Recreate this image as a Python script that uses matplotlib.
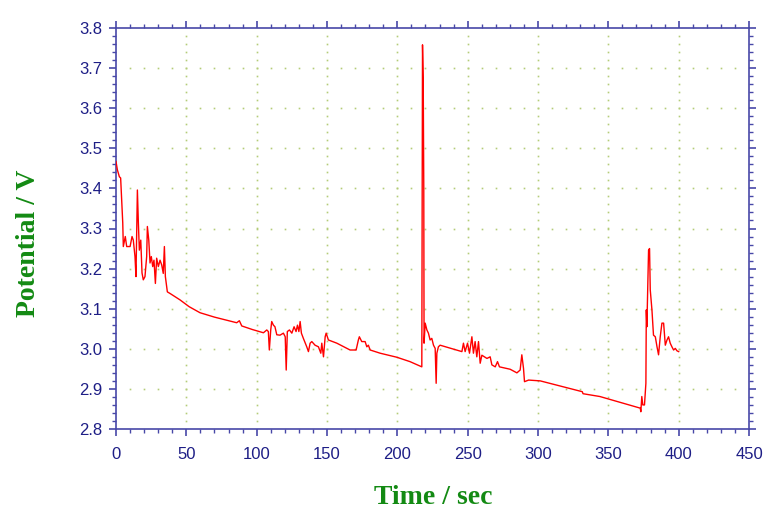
import numpy as np
import matplotlib
matplotlib.use("Agg")
import matplotlib.pyplot as plt
from matplotlib.ticker import MultipleLocator

# ---- data ----
time_s = [0, 1.0, 2.4, 3.3, 4.0, 4.8, 5.2, 6.6, 7.6, 10.0, 11.4, 12.3, 13.5, 14.2,
          15.2, 15.9, 16.6, 17.6, 18.5, 19.4, 20.6, 21.8, 22.3, 23.3, 24.2, 25.1,
          26.1, 27.0, 28.0, 28.9, 30.1, 31.3, 32.5, 33.6, 34.4, 35.1, 36.5, 38.4,
          45.5, 52.0, 59.7, 70.0, 80.0, 85.8, 87.7, 89.4, 97.0, 104.8, 107.2, 108.3,
          109.0, 110.0, 110.7, 111.9, 113.0, 114.3, 116.6, 119.0, 120.3, 121.0, 121.8,
          123.3, 125.0, 126.6, 128.0, 129.0, 130.0, 130.9, 131.8, 133.2, 135.6, 136.8,
          138.0, 139.2, 141.5, 143.9, 145.6, 146.3, 147.5, 148.7, 149.4, 151.0, 157.0,
          166.4, 170.7, 172.3, 173.0, 174.7, 177.1, 178.3, 179.4, 180.7, 187.8, 199.6,
          209.0, 217.4, 217.9, 218.4, 218.8, 219.0, 219.8, 221.0, 222.1, 223.3, 224.5,
          225.7, 226.9, 227.6, 228.1, 229.2, 230.4, 245.9, 247.0, 248.2, 249.9, 251.3,
          253.0, 254.1, 255.3, 256.5, 257.7, 258.9, 260.1, 263.7, 266.0, 267.2, 269.6,
          271.2, 272.6, 280.2, 285.0, 287.3, 288.5, 289.7, 290.4, 293.3, 301.6, 331.5,
          332.0, 344.0, 372.7, 373.1, 373.8, 374.5, 375.7, 376.7, 377.0, 377.4, 378.6,
          379.3, 379.8, 381.0, 382.1, 383.4, 384.6, 385.7, 386.9, 388.1, 389.3, 390.5,
          391.7, 392.8, 394.0, 395.2, 396.4, 397.6, 398.8, 400.0]
potential_v = [3.467, 3.446, 3.429, 3.426, 3.371, 3.314, 3.255, 3.280, 3.255, 3.255,
               3.280, 3.271, 3.230, 3.180, 3.396, 3.314, 3.246, 3.271, 3.189, 3.172,
               3.180, 3.230, 3.305, 3.271, 3.214, 3.230, 3.205, 3.221, 3.163, 3.226,
               3.205, 3.221, 3.209, 3.188, 3.255, 3.180, 3.142, 3.138,
               3.122, 3.105, 3.090, 3.079, 3.070, 3.065, 3.070, 3.057, 3.048, 3.040,
               3.047, 3.043, 2.997, 3.047, 3.068, 3.059, 3.055, 3.035, 3.034, 3.039,
               3.030, 2.947, 3.043, 3.047, 3.039, 3.055, 3.043, 3.059, 3.043, 3.068,
               3.039, 3.026, 3.005, 2.993, 3.014, 3.018, 3.009, 3.005, 2.989, 3.014,
               2.980, 3.030, 3.039, 3.022, 3.014, 2.997, 2.997, 3.022, 3.030, 3.018,
               3.018, 3.005, 3.009, 2.997, 2.989, 2.979, 2.968, 2.955, 3.758, 3.670,
               3.400, 3.014, 3.064, 3.047, 3.039, 3.022, 3.026, 3.009, 3.001, 2.914,
               2.989, 3.005, 3.009, 2.993, 3.014, 2.993, 3.014, 2.989, 3.030, 2.989,
               3.018, 2.980, 3.018, 2.964, 2.984, 2.976, 2.980, 2.960, 2.955, 2.968,
               2.955, 2.949, 2.940, 2.947, 2.985, 2.951, 2.918, 2.922, 2.920, 2.893,
               2.888, 2.881, 2.852, 2.843, 2.881, 2.860, 2.860, 2.914, 3.097, 3.055,
               3.246, 3.250, 3.147, 3.097, 3.034, 3.030, 3.005, 2.985, 3.030, 3.064,
               3.064, 3.009, 3.022, 3.030, 3.014, 3.005, 2.997, 3.001, 2.995, 2.993]

x_ticks = [0, 50, 100, 150, 200, 250, 300, 350, 400, 450]
y_ticks = [2.8, 2.9, 3.0, 3.1, 3.2, 3.3, 3.4, 3.5, 3.6, 3.7, 3.8]
x_label = "Time / sec"
y_label = "Potential / V"

# ---- style ----
spine_col = "#4848a8"
tick_col = "#1e1e86"
label_col = "#138a13"
grid_col = "#b4cc78"

fig = plt.figure(figsize=(7.74, 5.18), dpi=100)
ax = fig.add_axes([116 / 774, 1 - 429 / 518, (749 - 116) / 774, (429 - 28) / 518])

ax.set_xlim(x_ticks[0], x_ticks[-1])
ax.set_ylim(y_ticks[0], y_ticks[-1])

# dotted grid (dots at minor-tick spacing along each major gridline)
xmin_minor = np.arange(x_ticks[0], x_ticks[-1] + 1e-9, 10)
ymin_minor = np.arange(y_ticks[0], y_ticks[-1] + 1e-9, 0.02)
for yv in y_ticks[1:-1]:
    ax.plot(xmin_minor[1:-1], np.full(len(xmin_minor) - 2, yv), ls="none",
            marker="s", ms=1.2, mew=0, color=grid_col, zorder=1)
for xv in x_ticks[1:-1]:
    ax.plot(np.full(len(ymin_minor) - 2, xv), ymin_minor[1:-1], ls="none",
            marker="s", ms=1.2, mew=0, color=grid_col, zorder=1)

ax.plot(time_s, potential_v, color="#ff0000", lw=1.0, zorder=3)

ax.set_xticks(x_ticks)
ax.set_yticks(y_ticks)
ax.set_xticklabels([str(v) for v in x_ticks])
ax.set_yticklabels([f"{v:.1f}" for v in y_ticks])
ax.xaxis.set_minor_locator(MultipleLocator(10))
ax.yaxis.set_minor_locator(MultipleLocator(0.02))

for s in ax.spines.values():
    s.set_color(spine_col)
    s.set_linewidth(1.2)

ax.tick_params(which="both", direction="out", color=spine_col,
               top=True, right=True, labeltop=False, labelright=False)
ax.tick_params(which="major", length=5, width=1.2)
ax.tick_params(which="minor", length=3, width=1.0)
ax.tick_params(axis="x", which="major", pad=8, labelsize=12, labelcolor=tick_col)
ax.tick_params(axis="y", which="major", pad=5, labelsize=12, labelcolor=tick_col)
for lab in ax.get_xticklabels() + ax.get_yticklabels():
    lab.set_fontfamily("Liberation Sans")

fig.text(433 / 774, 1 - 498 / 518, x_label, ha="center", va="center",
         fontsize=20, fontweight="bold", family="Liberation Serif", color=label_col)
fig.text(29 / 774, 1 - 243 / 518, y_label, ha="center", va="center", rotation=90,
         fontsize=20, fontweight="bold", family="Liberation Serif", color=label_col)

fig.savefig("out.png", dpi=100)
